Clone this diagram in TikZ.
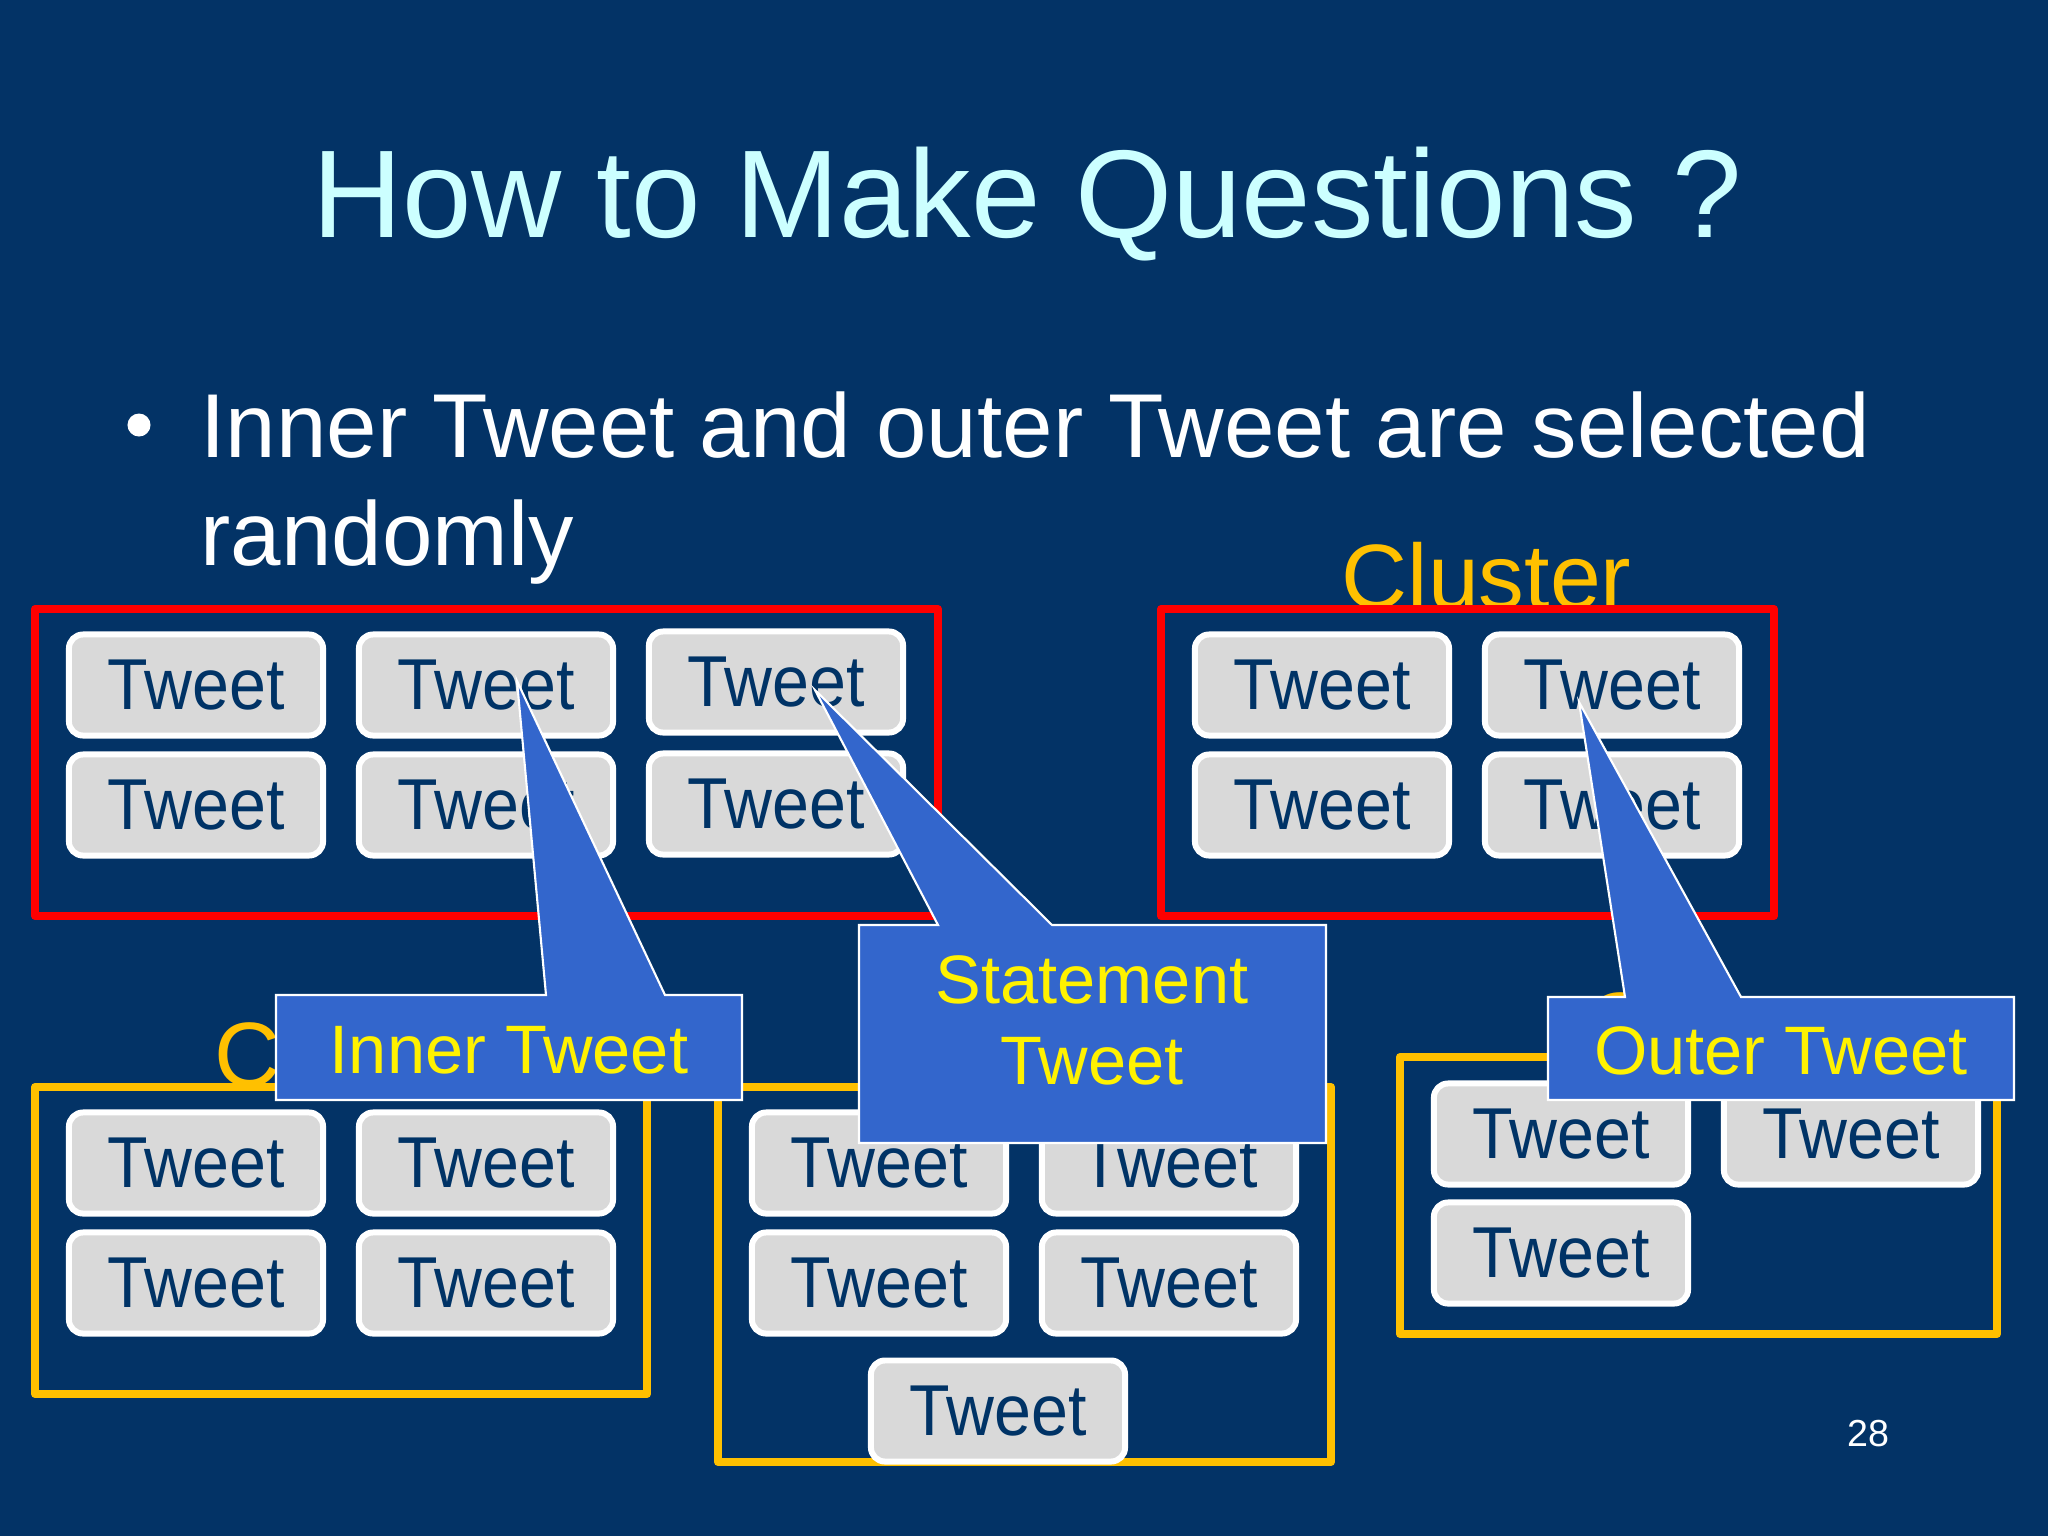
\documentclass[tikz,border=0pt]{standalone}
\usepackage{fontspec}
\setmainfont{Liberation Sans}
\newfontfamily\tweetfont[FakeStretch=0.92]{Liberation Sans}
\usetikzlibrary{positioning}
\definecolor{slidebg}{RGB}{3,51,102}
\definecolor{tweetgray}{RGB}{217,217,217}
\definecolor{tweetnavy}{RGB}{0,51,102}
\definecolor{clustergold}{RGB}{255,192,0}
\definecolor{calloutblue}{RGB}{51,102,204}
\definecolor{titlecyan}{RGB}{204,255,255}

\begin{document}
\begin{tikzpicture}[line join=round,x=0.01cm,y=-0.01cm,
  tweet/.style={draw=white,line width=1.7pt,fill=tweetgray,rounded corners=4pt,minimum width=2.54cm,minimum height=1.01cm,inner sep=0pt,text depth=0pt,text=tweetnavy,font=\tweetfont\fontsize{20.5}{24}\selectfont},
  redbox/.style={draw=red,line width=2.3pt},
  goldbox/.style={draw=clustergold,line width=2.3pt},
  callout/.style={fill=calloutblue,draw=white,line width=0.6pt,line join=miter},
  callouttext/.style={text=yellow,font=\fontsize{19.5}{23}\selectfont,inner sep=0pt,anchor=base},
  clusterlabel/.style={text=clustergold,font=\fontsize{26}{30}\selectfont,inner sep=0pt,anchor=base west}]
\useasboundingbox (0,0) rectangle (2048,1536);
\fill[slidebg] (0,0) rectangle (2048,1536);
\node[anchor=base,inner sep=0pt,text=titlecyan,font=\fontsize{35.5}{42}\selectfont] (title) at (1027,237) {How to Make Questions ?};
\fill[white] (139,425) circle (0.115cm);
\node[anchor=base west,inner sep=0pt,text=white,font=\fontsize{25.8}{31}\selectfont] (lineA) at (200,457) {Inner Tweet and outer Tweet are selected};
\node[anchor=base west,inner sep=0pt,text=white,font=\fontsize{25.8}{31}\selectfont] (lineB) at (200,565) {randomly};
\node[clusterlabel] (labA) at (1341,608) {Cluster};
\node[clusterlabel] (labB) at (214,1086) {Cluster};
\node[clusterlabel] (labC) at (1585,1056) {Cluster};
\draw[redbox] (35,609) rectangle (938,916);
\draw[redbox] (1161,609) rectangle (1774,916);
\draw[goldbox] (35,1087) rectangle (647,1394);
\draw[goldbox] (718,1087) rectangle (1331,1462);
\draw[goldbox] (1400,1057) rectangle (1997,1334);
\node[tweet] (ra1) at (196,685) {Tweet};
\node[tweet] (ra2) at (486,685) {Tweet};
\node[tweet] (ra3) at (776,682) {Tweet};
\node[tweet] (ra4) at (196,805) {Tweet};
\node[tweet] (ra5) at (486,805) {Tweet};
\node[tweet] (ra6) at (776,804) {Tweet};
\node[tweet] (rb1) at (1322,685) {Tweet};
\node[tweet] (rb2) at (1612,685) {Tweet};
\node[tweet] (rb3) at (1322,805) {Tweet};
\node[tweet] (rb4) at (1612,805) {Tweet};
\node[tweet] (ga1) at (196,1163) {Tweet};
\node[tweet] (ga2) at (486,1163) {Tweet};
\node[tweet] (ga3) at (196,1283) {Tweet};
\node[tweet] (ga4) at (486,1283) {Tweet};
\node[tweet] (gb1) at (879,1163) {Tweet};
\node[tweet] (gb2) at (1169,1163) {Tweet};
\node[tweet] (gb3) at (879,1283) {Tweet};
\node[tweet] (gb4) at (1169,1283) {Tweet};
\node[tweet] (gb5) at (998,1411) {Tweet};
\node[tweet] (gc1) at (1561,1134) {Tweet};
\node[tweet] (gc2) at (1851,1134) {Tweet};
\node[tweet] (gc3) at (1561,1253) {Tweet};
\draw[callout] (276,995) -- (546,995) -- (517,681) -- (665,995) -- (742,995) -- (742,1100) -- (276,1100) -- cycle;
\node[callouttext] (inner) at (509,1073) {Inner Tweet};
\draw[callout] (859,925) -- (938,925) -- (815,690) -- (1052,925) -- (1326,925) -- (1326,1143) -- (859,1143) -- cycle;
\node[callouttext] (stmtA) at (1092,1003) {Statement};
\node[callouttext] (stmtB) at (1092,1084) {Tweet};
\draw[callout] (1548,997) -- (1625,997) -- (1579,702) -- (1741,997) -- (2014,997) -- (2014,1100) -- (1548,1100) -- cycle;
\node[callouttext] (outer) at (1781,1074) {Outer Tweet};
\node[text=white,font=\fontsize{10.7}{13}\selectfont] (pagenum) at (1868,1434) {28};
\end{tikzpicture}
\end{document}
